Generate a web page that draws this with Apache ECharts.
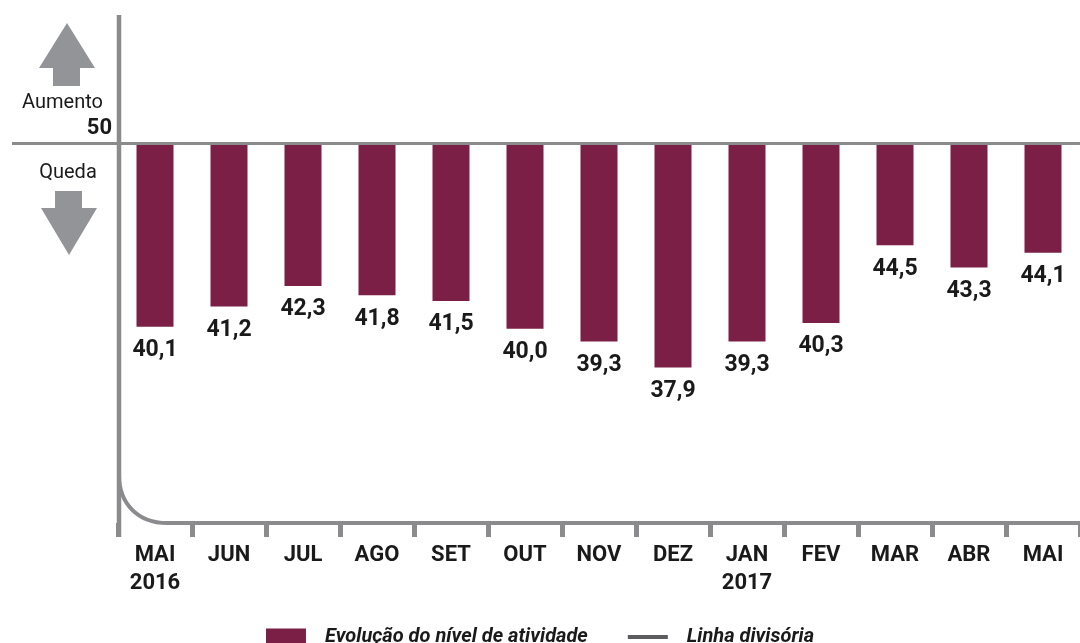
<!DOCTYPE html>
<html><head><meta charset="utf-8">
<script src="https://cdn.jsdelivr.net/npm/echarts@6/dist/echarts.min.js"></script>
<style>html,body{margin:0;padding:0;background:#fff}#c{width:1080px;height:643px}</style>
</head><body><div id="c"></div>
<script>
const months = ['MAI\n2016','JUN','JUL','AGO','SET','OUT','NOV','DEZ','JAN\n2017','FEV','MAR','ABR','MAI'];
const activity = [40.1,41.2,42.3,41.8,41.5,40.0,39.3,37.9,39.3,40.3,44.5,43.3,44.1];
const divider = 50;
const yMin = 29.5, yMax = 57;

const FONT = 'Roboto, "DejaVu Sans Condensed", sans-serif';
const BAR = '#7b1f47', GRAY = '#8b8b8e', ARROW = '#939497', TXT = '#1a1a1a';
const fmt = v => v.toFixed(1).replace('.', ',');

const chart = echarts.init(document.getElementById('c'));
chart.setOption({
  animation: false,
  grid: {left: 118, top: 14, width: 966, height: 509},
  xAxis: {
    type: 'category', data: months,
    axisLine: {show: false},
    axisTick: {show: true, length: 14, lineStyle: {color: GRAY, width: 5}},
    axisLabel: {interval: 0, color: TXT, fontFamily: FONT, fontWeight: 'bold', fontSize: 22, margin: 18, lineHeight: 28}
  },
  yAxis: {type: 'value', min: yMin, max: yMax, show: false, splitLine: {show: false}},
  legend: {
    data: [{name: 'Evolução do nível de atividade', icon: 'rect'},
           {name: 'Linha divisória', icon: 'path://M0,0H40V4H0Z', itemStyle: {color: '#5c5c5e'}}],
    left: 'center', top: 622, itemWidth: 40, itemHeight: 17, itemGap: 40,
    textStyle: {fontFamily: FONT, fontWeight: 'bold', fontStyle: 'italic', fontSize: 20, color: TXT, padding: [0, 0, 0, 14]}
  },
  series: [
    {name: 'base', type: 'bar', stack: 's', data: activity, barWidth: 37, silent: true,
     itemStyle: {color: 'transparent'}},
    {name: 'Evolução do nível de atividade', type: 'bar', stack: 's', barWidth: 37,
     data: activity.map(v => +(divider - v).toFixed(1)),
     itemStyle: {color: BAR},
     label: {show: true, position: 'bottom', distance: 12, color: TXT, fontFamily: FONT,
             fontWeight: 'bold', fontSize: 23, formatter: p => fmt(activity[p.dataIndex])}},
    {name: 'Linha divisória', type: 'line', data: months.map(() => divider), symbol: 'none', showSymbol: false,
     silent: true, z: 1,
     itemStyle: {color: GRAY},
     lineStyle: {color: GRAY, width: 3},
     markLine: {symbol: 'none', silent: true, label: {show: false},
                lineStyle: {color: GRAY, width: 3, type: 'solid'}, data: [{yAxis: divider}]}}
  ]
});

const y50 = chart.convertToPixel({yAxisIndex: 0}, divider);
const yB = chart.convertToPixel({yAxisIndex: 0}, yMin);
const xL = 119, R = 48, K = 0.6;
chart.setOption({
  graphic: [
    {type: 'line', shape: {x1: 12, y1: y50, x2: 118, y2: y50}, style: {stroke: GRAY, lineWidth: 3}, z: 10},
    {type: 'line', shape: {x1: xL, y1: 15, x2: xL, y2: yB + 14}, style: {stroke: GRAY, lineWidth: 4.5}, z: 10},
    {type: 'bezierCurve', shape: {x1: xL, y1: yB - R, cpx1: xL, cpy1: yB - R + K * R, cpx2: xL + R - K * R, cpy2: yB, x2: xL + R, y2: yB},
     style: {stroke: GRAY, lineWidth: 4, fill: null}, z: 10},
    {type: 'line', shape: {x1: xL + R - 1, y1: yB, x2: 1084, y2: yB}, style: {stroke: GRAY, lineWidth: 4}, z: 10},
    {type: 'polygon', shape: {points: [[67,23],[95,68],[80,68],[80,86],[53,86],[53,68],[39,68]]}, style: {fill: ARROW}},
    {type: 'polygon', shape: {points: [[55,191],[82,191],[82,208],[97,208],[69,255],[41,208],[55,208]]}, style: {fill: ARROW}},
    {type: 'text', x: 103, y: 103, style: {text: 'Aumento', align: 'right', verticalAlign: 'middle', font: '20px ' + FONT, fill: TXT}},
    {type: 'text', x: 112, y: 128, style: {text: '50', align: 'right', verticalAlign: 'middle', font: 'bold 22px ' + FONT, fill: TXT}},
    {type: 'text', x: 68, y: 173, style: {text: 'Queda', align: 'center', verticalAlign: 'middle', font: '20px ' + FONT, fill: TXT}}
  ]
});
</script>
</body></html>
